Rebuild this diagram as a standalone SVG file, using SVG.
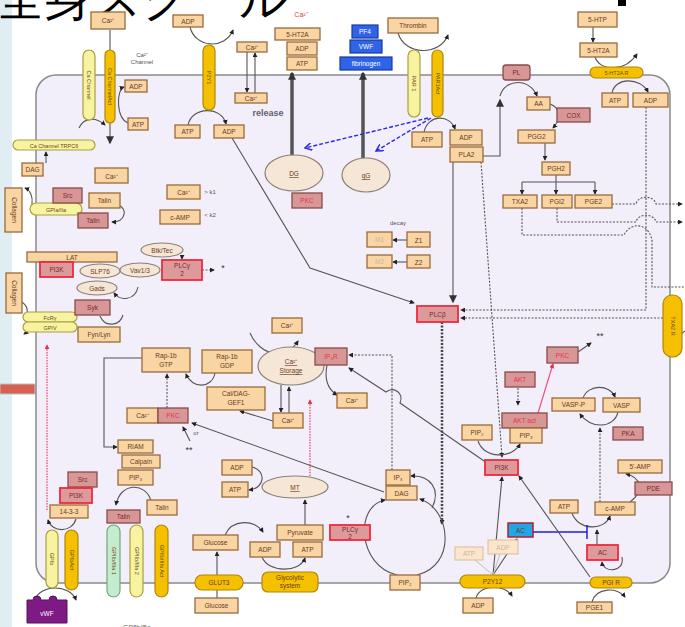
<svg xmlns="http://www.w3.org/2000/svg" width="685" height="627" viewBox="0 0 685 627">
<defs>
<style>
.b{fill:#f8d5a3;stroke:#9a6a3a;stroke-width:1.3}
.r{fill:#d79797;stroke:#8a4a4a;stroke-width:1.3}
.rb{fill:#dc9a9a;stroke:#ee2a3e;stroke-width:1.8}
.y{fill:#f5c000;stroke:#b0860a;stroke-width:1.2}
.ly{fill:#f7f3a0;stroke:#a8a040;stroke-width:1.2}
.gr{fill:#c6ecd0;stroke:#70a878;stroke-width:1.2}
.el{fill:#f6e6d6;stroke:#8a8078;stroke-width:1.2}
.bl{fill:#2f63e8;stroke:#1a3aa0;stroke-width:1.2}
.fd{fill:#fbe6cc;stroke:#dcc0a0;stroke-width:1.1}
text{font-family:"Liberation Sans",Arial,sans-serif}
.t{font-size:6.5px;fill:#6b3a1c;text-anchor:middle}
.tr{font-size:6.5px;fill:#e8344a;text-anchor:middle}
.tk{font-size:6.5px;fill:#7a2a2a;text-anchor:middle}
.tw{font-size:6.5px;fill:#ffffff;text-anchor:middle}
.tf{font-size:6.5px;fill:#c9b6a4;text-anchor:middle}
.tv{font-size:5.5px;fill:#6b4a1c;text-anchor:middle}
.tg{font-size:6px;fill:#555;text-anchor:middle}
.c{fill:none;stroke:#555;stroke-width:1.1}
.d{fill:none;stroke:#555;stroke-width:1.1;stroke-dasharray:2 1.5}
.tk2{fill:none;stroke:#555;stroke-width:3.5}
</style>
<marker id="a" viewBox="0 0 6 6" refX="5" refY="3" markerWidth="5" markerHeight="5" orient="auto" markerUnits="userSpaceOnUse"><path d="M0,0 L6,3 L0,6 z" fill="#222"/></marker>
<marker id="A" viewBox="0 0 6 6" refX="5" refY="3" markerWidth="8" markerHeight="8" orient="auto" markerUnits="userSpaceOnUse"><path d="M0,0 L6,3 L0,6 z" fill="#333"/></marker>
<marker id="bv" viewBox="0 0 8 8" refX="7" refY="4" markerWidth="8" markerHeight="8" orient="auto" markerUnits="userSpaceOnUse"><path d="M0,0 L7,4 L0,8" fill="none" stroke="#2a2ae0" stroke-width="1.5"/></marker>
<marker id="ra" viewBox="0 0 6 6" refX="5" refY="3" markerWidth="5" markerHeight="5" orient="auto" markerUnits="userSpaceOnUse"><path d="M0,0 L6,3 L0,6 z" fill="#e83050"/></marker>
</defs>

<rect x="0" y="0" width="685" height="627" fill="#ffffff"/>
<rect x="0" y="0" width="12" height="627" fill="#e0eef3"/>
<rect x="0" y="384" width="35" height="10" fill="#d9604f" stroke="#b0c4cc" stroke-width="1"/>

<text x="-3" y="15" font-family="'Noto Sans CJK JP',sans-serif" font-size="48" fill="#000">全身スクール</text>
<rect x="618" y="0" width="8" height="6" fill="#000"/>

<rect id="membrane" x="36" y="75" width="634" height="508" rx="20" fill="#f3effa" stroke="#8a8a8a" stroke-width="1.5"/>

<text x="301" y="17" font-size="7" fill="#e04040" text-anchor="middle">Ca²⁺</text>
<text x="142" y="57" class="tg">Ca²⁺</text>
<text x="142" y="64" class="tg">Channel</text>
<text x="268" y="116" font-size="9" font-weight="bold" fill="#606074" text-anchor="middle">release</text>
<text x="210" y="194" font-size="6" fill="#555" text-anchor="middle">&gt; k1</text>
<text x="210" y="217" font-size="6" fill="#555" text-anchor="middle">&lt; k2</text>
<text x="223" y="271" font-size="9" fill="#333" text-anchor="middle">*</text>
<text x="398" y="225" font-size="6" fill="#555" text-anchor="middle">decay</text>
<text x="348" y="521" font-size="9" fill="#333" text-anchor="middle">*</text>
<text x="600" y="339" font-size="9" fill="#333" text-anchor="middle">**</text>
<text x="196" y="435" font-size="6" fill="#555" text-anchor="middle">or</text>
<text x="189" y="453" font-size="9" fill="#333" text-anchor="middle">**</text>
<text x="137" y="630" font-size="7" fill="#666" text-anchor="middle">GPⅡb/Ⅲa</text>

<g id="connectors">
<path class="c" d="M110,30 V143" stroke-width="1.6" marker-end="url(#A)"/>
<path class="c" d="M128,123 C116,118 116,90 124,87" marker-end="url(#a)"/>
<path class="c" d="M79,128 C84,117 96,117 105,125" marker-end="url(#a)"/>
<path class="c" d="M46,163 V152" marker-end="url(#a)"/>
<path class="c" d="M190,27 C195,48 225,50 233,30" marker-end="url(#a)"/>
<path class="c" d="M188,125 C192,106 222,106 226,124" marker-end="url(#a)"/>
<path class="c" d="M247,52 V92" marker-end="url(#a)"/>
<path class="c" d="M255,93 V53" marker-end="url(#a)"/>
<path class="tk2" d="M292,155 V73" marker-end="url(#A)"/>
<path class="tk2" d="M363,158 V73" marker-end="url(#A)"/>
<path class="c" d="M398,33 C405,56 440,56 448,35" marker-end="url(#a)"/>
<path fill="none" stroke="#2a2ae0" stroke-width="1.4" stroke-dasharray="4 2" d="M428,118 L305,148" marker-end="url(#bv)"/>
<path fill="none" stroke="#2a2ae0" stroke-width="1.4" stroke-dasharray="4 2" d="M431,118 L376,151" marker-end="url(#bv)"/>
<path class="c" d="M424,132 C428,114 450,114 455,129" marker-end="url(#a)"/>
<path class="c" d="M232,138 L310,268 L414,303" marker-end="url(#a)"/>
<path class="c" d="M453,162 V302" stroke-width="1.8" stroke="#333" marker-end="url(#A)"/>
<path class="c" d="M483,156 H500 V100" marker-end="url(#A)"/>
<path class="c" d="M500,96 C505,78 530,78 537,96" marker-end="url(#a)"/>
<path class="c" d="M550,104 C561,108 561,119 553,128" marker-end="url(#a)"/>
<path class="c" d="M545,143 V160" marker-end="url(#a)"/>
<path class="c" d="M556,175 V182 M522,182 H595"/>
<path class="c" d="M522,182 V194" marker-end="url(#a)"/>
<path class="c" d="M556,182 V194" marker-end="url(#a)"/>
<path class="c" d="M595,182 V194" marker-end="url(#a)"/>
<path class="c" d="M593,27 V42" marker-end="url(#a)"/>
<path class="c" d="M595,57 C600,72 625,72 637,54" marker-end="url(#a)"/>
<path class="c" d="M612,93 C615,77 640,77 648,92" marker-end="url(#a)"/>
<path class="d" d="M646,107 V310 H461" marker-end="url(#a)"/>
<path class="d" d="M663,318 H461" marker-end="url(#a)"/>
<path class="d" d="M612,204 H636 C638,195 654,195 656,204 H682" marker-end="url(#a)"/>
<path class="d" d="M557,208 V222 H636 C638,213 654,213 656,222 H682" marker-end="url(#a)"/>
<path class="d" d="M522,208 V235 H624 C630,222 648,222 652,240 V287 H685"/>
<path class="c" d="M685,331 C678,335 677,344 682,347"/>
<path class="d" d="M481,162 L502,457" marker-end="url(#a)"/>
<path class="c" d="M487,463 L400,403 C404,393 394,386 386,392 L349,368" marker-end="url(#a)"/>
<path class="d" d="M392,470 V355 H349" marker-end="url(#a)"/>
<path class="c" d="M384,492 L192,423" marker-end="url(#a)"/>
<path fill="none" stroke="#444" stroke-width="2.5" stroke-dasharray="2 1.5" d="M442,322 V524" marker-end="url(#a)"/>
<path class="c" d="M397,575 C358,566 354,506 385,500" marker-end="url(#a)"/>
<path class="c" d="M417,575 C456,566 452,510 420,499" marker-end="url(#a)"/>
<path class="c" d="M432,508 C441,490 431,475 411,476" marker-end="url(#a)"/>
<path class="c" d="M327,365 C324,380 329,390 337,395" marker-end="url(#a)"/>
<path class="c" d="M250,333 C260,356 286,361 298,341" marker-end="url(#a)"/>
<path class="c" d="M281,385 V412" marker-end="url(#a)"/>
<path class="c" d="M289,413 V387" marker-end="url(#a)"/>
<path class="c" d="M273,421 L240,411" marker-end="url(#a)"/>
<path class="c" d="M215,373 C212,389 192,389 186,374" marker-end="url(#a)"/>
<path class="d" d="M167,408 V374" marker-end="url(#a)"/>
<path class="c" d="M142,358 H104 V447 H117" marker-end="url(#a)"/>
<path class="c" d="M190,441 L183,427" marker-end="url(#a)"/>
<path class="c" d="M151,501 C146,482 120,482 116,505" marker-end="url(#a)"/>
<path class="c" d="M76,519 C72,533 52,533 48,520" marker-end="url(#a)"/>
<path class="c" d="M35,600 C40,584 70,584 76,600" marker-end="url(#a)"/>
<path class="c" d="M217,598 V552" marker-end="url(#a)"/>
<path class="c" d="M225,535 C232,519 255,519 263,532" marker-end="url(#a)"/>
<path class="c" d="M262,557 C268,573 300,573 305,558" marker-end="url(#a)"/>
<path class="c" d="M305,525 V500" marker-end="url(#a)"/>
<path class="c" d="M252,467 C266,470 266,488 249,490" marker-end="url(#a)"/>
<path fill="none" stroke="#e83050" stroke-width="1.1" stroke-dasharray="1.5 1.2" d="M310,476 V400" marker-end="url(#ra)"/>
<path fill="none" stroke="#e83050" stroke-width="1.1" stroke-dasharray="1.5 1.2" d="M47,510 V345" marker-end="url(#ra)"/>
<path class="c" d="M578,352 L591,343" marker-end="url(#a)"/>
<path fill="none" stroke="#f0507a" stroke-width="1.2" d="M538,413 L553,364" marker-end="url(#ra)"/>
<path class="d" d="M518,388 V405" marker-end="url(#a)"/>
<path class="c" d="M583,398 C588,384 610,384 615,397" marker-end="url(#a)"/>
<path class="c" d="M618,412 C614,429 590,429 580,414" marker-end="url(#a)"/>
<path class="d" d="M600,502 V428" marker-end="url(#a)"/>
<path class="c" d="M478,441 C484,459 512,459 520,444" marker-end="url(#a)"/>
<path class="c" d="M630,502 C646,490 640,477 626,474" marker-end="url(#a)"/>
<path class="c" d="M572,513 C578,531 605,531 610,516" marker-end="url(#a)"/>
<path fill="none" stroke="#2020e0" stroke-width="1.5" d="M533,532 H587 M587,525 V539"/>
<path class="c" d="M597,545 V530" marker-end="url(#a)"/>
<path class="c" d="M622,557 C625,573 603,573 602,562" marker-end="url(#a)"/>
<path class="c" d="M590,577 L519,476" marker-end="url(#a)"/>
<path class="c" d="M493,575 L502,477" marker-end="url(#a)"/>
<path class="c" d="M493,575 L517,539" marker-end="url(#a)"/>
<path fill="none" stroke="#cdbcae" stroke-width="1" d="M493,575 L475,560 M493,575 L500,554"/>
<path class="c" d="M476,598 C480,584 505,584 512,596" marker-end="url(#a)"/>
<path class="c" d="M592,602 C596,587 618,587 625,597" marker-end="url(#a)"/>
<path class="c" d="M182,257 V259" marker-end="url(#a)"/>
<path class="d" d="M202,270 H214" marker-end="url(#a)"/>
<path class="c" d="M138,287 C135,301 120,301 114,293" marker-end="url(#a)"/>
<path class="c" d="M100,316 C105,328 120,326 123,315"/>
<path class="c" d="M118,205 C128,208 126,222 112,222" marker-end="url(#a)"/>
<path class="c" d="M32,204 C33,196 30,190 25,188" marker-end="url(#a)"/>
<path class="c" d="M22,302 C26,305 28,309 27,313"/>
<path class="c" d="M30,330 L24,334" marker-end="url(#a)"/>
<path class="c" d="M407,240 H393" marker-end="url(#a)"/>
<path class="c" d="M407,262 H393" marker-end="url(#a)"/>
</g>

<g id="n-ca-channel"><rect class="ly" x="83" y="50" width="12" height="70" rx="6"/><text class="tv" x="89" y="87" transform="rotate(90 89 85)">Ca Channel</text></g>
<g id="n-ca-channel-act"><rect class="y" x="105" y="50" width="10" height="73" rx="5"/><text class="tv" x="110" y="88.5" transform="rotate(90 110 86.5)">Ca ChannelAct</text></g>
<g id="n-p2y1"><rect class="y" x="203" y="45" width="12" height="65" rx="6"/><text class="tv" x="209" y="79.5" transform="rotate(90 209 77.5)">P2Y1</text></g>
<g id="n-par1"><rect class="ly" x="408" y="50" width="12" height="67" rx="6"/><text class="tv" x="414" y="85.5" transform="rotate(90 414 83.5)">PAR 1</text></g>
<g id="n-par1act"><rect class="y" x="432" y="50" width="11" height="67" rx="5.5"/><text class="tv" x="437.5" y="85.5" transform="rotate(90 437.5 83.5)">PAR1Act</text></g>
<g id="n-5ht2ar"><rect class="y" x="590" y="67" width="53" height="11" rx="5.5"/><text class="tv" x="616.5" y="75">5-HT2A R</text></g>
<g id="n-txa2r"><rect class="y" x="663" y="295" width="19" height="62" rx="9"/><text class="tv" x="672.5" y="328" transform="rotate(90 672.5 326)">TXA2 R</text></g>
<g id="n-gpibact"><rect class="y" x="65" y="530" width="13" height="60" rx="6.5"/><text class="tv" x="71.5" y="562" transform="rotate(90 71.5 560)">GPIbAct</text></g>
<g id="n-gpiib-act"><rect class="y" x="155" y="525" width="13" height="72" rx="6.5"/><text class="tv" x="161.5" y="563" transform="rotate(90 161.5 561)">GPIIb/IIIa Act</text></g>
<g id="n-gpib"><rect class="ly" x="46" y="530" width="12" height="58" rx="6"/><text class="tv" x="52" y="561" transform="rotate(90 52 559)">GPIb</text></g>
<g id="n-gpiib2"><rect class="ly" x="130" y="525" width="13" height="72" rx="6.5"/><text class="tv" x="136.5" y="563" transform="rotate(90 136.5 561)">GPIIb/IIIa 2</text></g>
<g id="n-gpiib1"><rect class="gr" x="107" y="525" width="13" height="72" rx="6.5"/><text class="tv" x="113.5" y="563" transform="rotate(90 113.5 561)">GPIIb/IIIa 1</text></g>
<g id="n-glut3"><rect class="y" x="195" y="575" width="48" height="15" rx="7"/><text class="t" x="219" y="585">GLUT3</text></g>
<g id="n-glyco"><rect class="y" x="262" y="572" width="56" height="20" rx="6"/><text class="t" x="290" y="580">Glycolytic</text><text class="t" x="290" y="588">system</text></g>
<g id="n-p2y12"><rect class="y" x="460" y="575" width="65" height="13" rx="6.5"/><text class="t" x="492.5" y="584">P2Y12</text></g>
<g id="n-pgir"><rect class="y" x="590" y="577" width="42" height="11" rx="5.5"/><text class="t" x="611" y="585">PGI R</text></g>
<g id="n-trpc6"><rect class="ly" x="13" y="140" width="82" height="10" rx="5"/><text class="tv" x="54" y="147.5">Ca Channel TRPC6</text></g>
<g id="n-gpia"><rect class="ly" x="30" y="203" width="52" height="12" rx="6"/><text class="tv" x="56" y="211.5">GPIa/IIa</text></g>
<g id="n-fcr"><rect class="ly" x="23" y="312" width="54" height="10" rx="5"/><text class="tv" x="50" y="319.5">FcRγ</text></g>
<g id="n-gpiv"><rect class="ly" x="23" y="322" width="54" height="10" rx="5"/><text class="tv" x="50" y="329.5">GPIV</text></g>

<g id="n-ca-top"><rect class="b" x="91" y="12" width="34" height="17"/><text class="t" x="108" y="23">Ca²⁺</text></g>
<g id="n-adp1"><rect class="b" x="173" y="15" width="30" height="12"/><text class="t" x="188" y="23.5">ADP</text></g>
<g id="n-adp2"><rect class="b" x="125" y="80" width="22" height="12"/><text class="t" x="136" y="88.5">ADP</text></g>
<g id="n-atp2"><rect class="b" x="128" y="118" width="20" height="12"/><text class="t" x="138" y="126.5">ATP</text></g>
<g id="n-atp3"><rect class="b" x="175" y="125" width="25" height="13"/><text class="t" x="187.5" y="134">ATP</text></g>
<g id="n-adp3"><rect class="b" x="214" y="125" width="30" height="13"/><text class="t" x="229" y="134">ADP</text></g>
<g id="n-ca-rel1"><rect class="b" x="237" y="42" width="30" height="10"/><text class="t" x="252" y="49.5" font-size="6">Ca²⁺</text></g>
<g id="n-ca-rel2"><rect class="b" x="235" y="93" width="32" height="10"/><text class="t" x="251" y="100.5" font-size="6">Ca²⁺</text></g>
<g id="n-5ht2a"><rect class="b" x="275" y="28" width="45" height="12"/><text class="t" x="297.5" y="36.5">5-HT2A</text></g>
<g id="n-adp4"><rect class="b" x="287" y="42" width="30" height="13"/><text class="t" x="302" y="51">ADP</text></g>
<g id="n-atp4"><rect class="b" x="287" y="57" width="30" height="13"/><text class="t" x="302" y="66">ATP</text></g>
<g id="n-pf4"><rect class="bl" x="352" y="25" width="26" height="13"/><text class="tw" x="365" y="34">PF4</text></g>
<g id="n-vwf-b"><rect class="bl" x="350" y="40" width="32" height="13"/><text class="tw" x="366" y="49">VWF</text></g>
<g id="n-fibrinogen"><rect class="bl" x="340" y="57" width="52" height="13"/><text class="tw" x="366" y="66">fibrinogen</text></g>
<g id="n-thrombin"><rect class="b" x="388" y="18" width="50" height="15"/><text class="t" x="413" y="28">Thrombin</text></g>
<g id="n-atp5"><rect class="b" x="412" y="132" width="30" height="15"/><text class="t" x="427" y="142">ATP</text></g>
<g id="n-adp5"><rect class="b" x="450" y="130" width="32" height="15"/><text class="t" x="466" y="140">ADP</text></g>
<g id="n-pla2"><rect class="b" x="450" y="147" width="33" height="15"/><text class="t" x="466.5" y="157">PLA2</text></g>
<g id="n-5htp"><rect class="b" x="578" y="12" width="39" height="15"/><text class="t" x="597.5" y="22">5-HTP</text></g>
<g id="n-5ht2a-b"><rect class="b" x="580" y="43" width="37" height="14"/><text class="t" x="598.5" y="52.5">5-HT2A</text></g>
<g id="n-atp6"><rect class="b" x="602" y="93" width="26" height="14"/><text class="t" x="615" y="102.5">ATP</text></g>
<g id="n-adp6"><rect class="b" x="633" y="93" width="35" height="14"/><text class="t" x="650.5" y="102.5">ADP</text></g>
<g id="n-pl"><rect class="r" x="503" y="65" width="27" height="15" rx="3"/><text class="tk" x="516.5" y="75">PL</text></g>
<g id="n-aa"><rect class="b" x="527" y="97" width="23" height="13"/><text class="t" x="538.5" y="106">AA</text></g>
<g id="n-cox"><rect class="r" x="557" y="108" width="33" height="14"/><text class="tk" x="573.5" y="117.5">COX</text></g>
<g id="n-pgg2"><rect class="b" x="518" y="130" width="37" height="13"/><text class="t" x="536.5" y="139">PGG2</text></g>
<g id="n-pgh2"><rect class="b" x="542" y="162" width="28" height="13"/><text class="t" x="556" y="171">PGH2</text></g>
<g id="n-txa2"><rect class="b" x="503" y="195" width="34" height="13"/><text class="t" x="520" y="204">TXA2</text></g>
<g id="n-pgi2"><rect class="b" x="542" y="195" width="30" height="13"/><text class="t" x="557" y="204">PGI2</text></g>
<g id="n-pge2"><rect class="b" x="575" y="195" width="37" height="13"/><text class="t" x="593.5" y="204">PGE2</text></g>
<g id="n-dg"><ellipse class="el" cx="294" cy="173" rx="29" ry="18"/><text class="t" x="294" y="176" text-decoration="underline">DG</text></g>
<g id="n-pkc-dg"><rect class="r" x="292" y="193" width="30" height="15"/><text class="tr" x="307" y="203">PKC</text></g>
<g id="n-qg"><ellipse class="el" cx="366" cy="175" rx="24" ry="17"/><text class="t" x="366" y="178" text-decoration="underline">qG</text></g>
<g id="n-dag-l"><rect class="b" x="22" y="163" width="21" height="13"/><text class="t" x="32.5" y="172">DAG</text></g>
<g id="n-ca-big"><rect class="b" x="95" y="168" width="33" height="15"/><text class="t" x="111.5" y="179" font-size="9">Ca²⁺</text></g>
<g id="n-collagen1"><rect class="b" x="5" y="188" width="17" height="44"/><text class="t" x="13.5" y="212" font-size="6" transform="rotate(90 13.5 210)">Collagen</text></g>
<g id="n-src1"><rect class="r" x="53" y="188" width="29" height="15"/><text class="tk" x="67.5" y="198">Src</text></g>
<g id="n-talin1"><rect class="b" x="89" y="193" width="31" height="15"/><text class="t" x="104.5" y="203">Talin</text></g>
<g id="n-talin-r1"><rect class="r" x="78" y="213" width="30" height="15"/><text class="tk" x="93" y="223">Talin</text></g>
<g id="n-ca-k1"><rect class="b" x="167" y="185" width="33" height="14"/><text class="t" x="183.5" y="194.5">Ca²⁺</text></g>
<g id="n-camp-k2"><rect class="b" x="160" y="210" width="40" height="14"/><text class="t" x="180" y="219.5">c-AMP</text></g>
<g id="n-btk"><ellipse class="el" cx="162" cy="250" rx="21" ry="7"/><text class="t" x="162" y="252.5" font-size="6">Btk/Tec</text></g>
<g id="n-lat"><rect class="b" x="27" y="252" width="90" height="10"/><text class="t" x="72" y="259.5">LAT</text></g>
<g id="n-pi3k-l"><rect class="rb" x="40" y="262" width="33" height="15"/><text class="tk" x="56.5" y="272">PI3K</text></g>
<g id="n-slp76"><ellipse class="el" cx="100" cy="271" rx="20" ry="7"/><text class="t" x="100" y="273.5" font-size="6">SLP76</text></g>
<g id="n-vav"><ellipse class="el" cx="140" cy="270" rx="20" ry="7"/><text class="t" x="140" y="272.5" font-size="6">Vav1/3</text></g>
<g id="n-plcg2"><rect class="rb" x="162" y="260" width="40" height="20"/><text class="tk" x="182" y="268">PLCγ</text><text class="tk" x="182" y="276">2</text></g>
<g id="n-gads"><ellipse class="el" cx="97" cy="288" rx="20" ry="7"/><text class="t" x="97" y="290.5" font-size="6">Gads</text></g>
<g id="n-collagen2"><rect class="b" x="6" y="273" width="16" height="40"/><text class="t" x="14" y="295" font-size="6" transform="rotate(90 14 293)">Collagen</text></g>
<g id="n-syk"><rect class="r" x="75" y="300" width="35" height="15"/><text class="tk" x="92.5" y="310">Syk</text></g>
<g id="n-fynlyn"><rect class="b" x="78" y="327" width="42" height="15"/><text class="t" x="99" y="337">Fyn/Lyn</text></g>
<g id="n-m1"><rect class="b" x="367" y="232" width="25" height="15"/><text class="tf" x="379.5" y="242">M1</text></g>
<g id="n-z1"><rect class="b" x="407" y="232" width="23" height="15"/><text class="t" x="418.5" y="242.5" font-size="8">Z1</text></g>
<g id="n-m2"><rect class="b" x="367" y="255" width="25" height="13"/><text class="tf" x="379.5" y="264">M2</text></g>
<g id="n-z2"><rect class="b" x="407" y="255" width="23" height="13"/><text class="t" x="418.5" y="264.5" font-size="8">Z2</text></g>
<g id="n-plcb"><rect class="rb" x="417" y="306" width="41" height="16"/><text class="tk" x="437.5" y="316.5">PLCβ</text></g>
<g id="n-rap-gtp"><rect class="b" x="142" y="348" width="48" height="24"/><text class="t" x="166" y="358">Rap-1b</text><text class="t" x="166" y="367">GTP</text></g>
<g id="n-rap-gdp"><rect class="b" x="202" y="350" width="50" height="23"/><text class="t" x="227" y="359">Rap-1b</text><text class="t" x="227" y="368">GDP</text></g>
<g id="n-caldag"><rect class="b" x="207" y="387" width="58" height="23"/><text class="t" x="236" y="396">Cal/DAG-</text><text class="t" x="236" y="405">GEF1</text></g>
<g id="n-ca-stor-top"><rect class="b" x="272" y="318" width="30" height="15"/><text class="t" x="287" y="328">Ca²⁺</text></g>
<g id="n-storage"><ellipse class="el" cx="291" cy="366" rx="33" ry="19"/><text class="t" x="291" y="364" text-decoration="underline">Ca²⁺</text><text class="t" x="291" y="373" text-decoration="underline">Storage</text></g>
<g id="n-ip3r"><rect class="r" x="315" y="348" width="32" height="17"/><text class="tr" x="331" y="359">IP₃R</text></g>
<g id="n-ca-ip3r"><rect class="b" x="337" y="393" width="30" height="15"/><text class="t" x="352" y="403">Ca²⁺</text></g>
<g id="n-ca-stor-bot"><rect class="b" x="273" y="413" width="30" height="15"/><text class="t" x="288" y="423">Ca²⁺</text></g>
<g id="n-ca-pkc"><rect class="b" x="127" y="408" width="31" height="15"/><text class="t" x="142.5" y="418">Ca²⁺</text></g>
<g id="n-pkc-ca"><rect class="r" x="158" y="408" width="30" height="15"/><text class="tr" x="173" y="418">PKC</text></g>
<g id="n-riam"><rect class="b" x="118" y="440" width="35" height="13"/><text class="t" x="135.5" y="449">RIAM</text></g>
<g id="n-calpain"><rect class="b" x="122" y="455" width="38" height="13"/><text class="t" x="141" y="464">Calpain</text></g>
<g id="n-pip3-l"><rect class="b" x="118" y="470" width="35" height="15"/><text class="t" x="135.5" y="480">PIP₃</text></g>
<g id="n-talin2"><rect class="b" x="147" y="500" width="30" height="15"/><text class="t" x="162" y="510">Talin</text></g>
<g id="n-talin-r2"><rect class="r" x="107" y="510" width="33" height="13"/><text class="tk" x="123.5" y="519">Talin</text></g>
<g id="n-src2"><rect class="r" x="68" y="472" width="29" height="15"/><text class="tk" x="82.5" y="482">Src</text></g>
<g id="n-pi3k-s"><rect class="rb" x="60" y="488" width="32" height="15"/><text class="tk" x="76" y="498">PI3K</text></g>
<g id="n-1433"><rect class="b" x="50" y="505" width="38" height="13"/><text class="t" x="69" y="514">14-3-3</text></g>
<g id="n-vwf"><path d="M27,623 V600 H33 A4,4 0 0 1 41,600 H49 A4,4 0 0 1 57,600 H67 V623 Z" fill="#7e1a84" stroke="#5a0f60" stroke-width="1"/><text class="tw" x="47" y="616">vWF</text></g>
<g id="n-adp-mt"><rect class="b" x="222" y="460" width="30" height="15"/><text class="t" x="237" y="470">ADP</text></g>
<g id="n-atp-mt"><rect class="b" x="222" y="482" width="26" height="15"/><text class="t" x="235" y="492">ATP</text></g>
<g id="n-mt"><ellipse class="el" cx="295" cy="487" rx="33" ry="11"/><text class="t" x="295" y="490" text-decoration="underline">MT</text></g>
<g id="n-glucose1"><rect class="b" x="193" y="535" width="45" height="15"/><text class="t" x="215.5" y="545">Glucose</text></g>
<g id="n-glucose2"><rect class="b" x="195" y="598" width="43" height="15"/><text class="t" x="216.5" y="608">Glucose</text></g>
<g id="n-pyruvate"><rect class="b" x="277" y="525" width="46" height="15"/><text class="t" x="300" y="535">Pyruvate</text></g>
<g id="n-adp-g"><rect class="b" x="250" y="542" width="30" height="15"/><text class="t" x="265" y="552">ADP</text></g>
<g id="n-atp-g"><rect class="b" x="293" y="542" width="29" height="15"/><text class="t" x="307.5" y="552">ATP</text></g>
<g id="n-plcg2-b"><rect class="rb" x="330" y="525" width="40" height="15"/><text class="tk" x="350" y="531.5" font-size="6">PLCγ</text><text class="tk" x="350" y="538.5" font-size="6">2</text></g>
<g id="n-ip3"><rect class="b" x="386" y="470" width="24" height="15"/><text class="t" x="398" y="480">IP₃</text></g>
<g id="n-dag-r"><rect class="b" x="386" y="486" width="31" height="14"/><text class="t" x="401.5" y="495.5">DAG</text></g>
<g id="n-pip2-b"><rect class="b" x="390" y="575" width="30" height="15"/><text class="t" x="405" y="585">PIP₂</text></g>
<g id="n-pkc-r"><rect class="r" x="547" y="347" width="31" height="16"/><text class="tr" x="562.5" y="357.5">PKC</text></g>
<g id="n-akt"><rect class="r" x="505" y="372" width="30" height="15"/><text class="tr" x="520" y="382">AKT</text></g>
<g id="n-aktact"><rect class="r" x="502" y="413" width="45" height="15"/><text class="tr" x="524.5" y="423">AKT act</text></g>
<g id="n-vaspp"><rect class="b" x="552" y="398" width="43" height="13"/><text class="t" x="573.5" y="407">VASP-P</text></g>
<g id="n-vasp"><rect class="b" x="603" y="398" width="37" height="14"/><text class="t" x="621.5" y="407.5">VASP</text></g>
<g id="n-pka"><rect class="r" x="613" y="427" width="30" height="13"/><text class="tk" x="628" y="436">PKA</text></g>
<g id="n-pip2-r"><rect class="b" x="462" y="425" width="30" height="15"/><text class="t" x="477" y="435">PIP₂</text></g>
<g id="n-pip3-r"><rect class="b" x="510" y="428" width="32" height="15"/><text class="t" x="526" y="438">PIP₃</text></g>
<g id="n-pi3k-r"><rect class="rb" x="485" y="460" width="33" height="15"/><text class="tk" x="501.5" y="470">PI3K</text></g>
<g id="n-5amp"><rect class="b" x="618" y="460" width="44" height="13"/><text class="t" x="640" y="469">5'-AMP</text></g>
<g id="n-pde"><rect class="r" x="635" y="482" width="37" height="13"/><text class="tk" x="653.5" y="491">PDE</text></g>
<g id="n-camp"><rect class="b" x="595" y="502" width="40" height="13"/><text class="t" x="615" y="511">c-AMP</text></g>
<g id="n-atp-ac"><rect class="b" x="550" y="500" width="28" height="13"/><text class="t" x="564" y="509">ATP</text></g>
<g id="n-atp-faded"><rect class="fd" x="455" y="547" width="28" height="13"/><text class="tf" x="469" y="556">ATP</text></g>
<g id="n-adp-faded"><rect class="fd" x="488" y="540" width="30" height="14"/><text class="tf" x="503" y="549.5">ADP</text></g>
<g id="n-ac-blue"><rect x="508" y="523" width="25" height="14" fill="#22a6e6" stroke="#b02030" stroke-width="1.5"/><text class="t" x="520.5" y="532.5" fill="#14306a">AC</text></g>
<g id="n-ac"><rect class="rb" x="587" y="545" width="31" height="15"/><text class="tk" x="602.5" y="555">AC</text></g>
<g id="n-adp-p2y12"><rect class="b" x="463" y="598" width="30" height="15"/><text class="t" x="478" y="608">ADP</text></g>
<g id="n-pge1"><rect class="b" x="577" y="602" width="35" height="11"/><text class="t" x="594.5" y="610">PGE1</text></g>
</svg>
